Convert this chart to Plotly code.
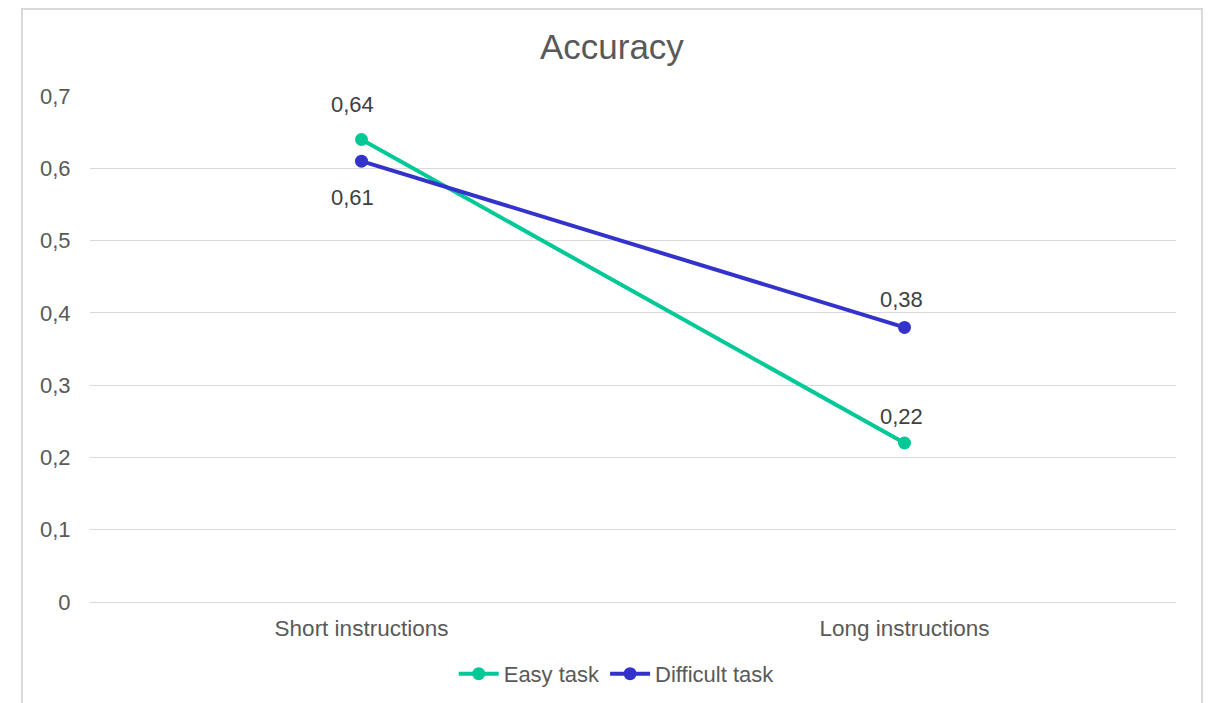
import plotly.graph_objects as go

categories = ["Short instructions", "Long instructions"]
easy_values = [0.64, 0.22]
difficult_values = [0.61, 0.38]
y_ticks = [0, 0.1, 0.2, 0.3, 0.4, 0.5, 0.6, 0.7]

# label offsets in pixels (style only)
easy_label_shift = [35, 27]
difficult_label_shift = [-36, 28]
label_xshift = [-9, -3]

def fmt(v):
    return f"{v:.2f}".replace(".", ",")

FONT = "Liberation Sans, Arial, sans-serif"
GREEN = "#00C896"
BLUE = "#3333CC"
TXT = "#595959"

fig = go.Figure()
fig.add_trace(go.Scatter(
    x=categories, y=easy_values, name="Easy task", mode="lines+markers",
    line=dict(color=GREEN, width=4), marker=dict(color=GREEN, size=13),
))
fig.add_trace(go.Scatter(
    x=categories, y=difficult_values, name="Difficult task", mode="lines+markers",
    line=dict(color=BLUE, width=4), marker=dict(color=BLUE, size=13),
))

for vals, shifts in ((easy_values, easy_label_shift), (difficult_values, difficult_label_shift)):
    for c, v, s, xs in zip(categories, vals, shifts, label_xshift):
        fig.add_annotation(x=c, y=v, text=fmt(v), showarrow=False, yshift=s, xshift=xs,
                           xanchor="center", yanchor="middle",
                           font=dict(family=FONT, size=22, color="#404040"))

fig.update_layout(
    width=1203, height=695,
    margin=dict(l=82, r=35, t=88, b=101, autoexpand=False),
    paper_bgcolor="white", plot_bgcolor="white",
    separators=",.",
    font=dict(family=FONT, size=22, color=TXT),
    title=dict(text="Accuracy", xref="container", x=0.502, xanchor="center",
               yref="container", y=0.944, yanchor="middle",
               font=dict(family=FONT, size=35, color=TXT)),
    showlegend=True,
    legend=dict(orientation="h", x=0.485, xanchor="center", y=-0.142, yanchor="middle",
                font=dict(family=FONT, size=22, color=TXT), itemwidth=40,
                traceorder="normal"),
    xaxis=dict(type="category", range=[-0.5, 1.5], showgrid=False, zeroline=False,
               showline=False, ticks="outside", ticklen=6, tickcolor="rgba(0,0,0,0)",
               automargin=False,
               tickfont=dict(family=FONT, size=22.5, color=TXT)),
    yaxis=dict(range=[0, 0.7002], tickvals=y_ticks, showgrid=True, gridcolor="#D9D9D9",
               gridwidth=1, zeroline=True, zerolinecolor="#D9D9D9", zerolinewidth=1,
               showline=False, ticks="outside", ticklen=14, tickcolor="rgba(0,0,0,0)",
               automargin=False,
               tickfont=dict(family=FONT, size=22, color=TXT)),
)

fig.add_shape(type="rect", xref="paper", yref="paper",
              x0=-0.0626, x1=1.0239, y0=-0.22, y1=1.172,
              line=dict(color="#D9D9D9", width=2), fillcolor="rgba(0,0,0,0)", layer="below")

fig.write_html("out.html")
